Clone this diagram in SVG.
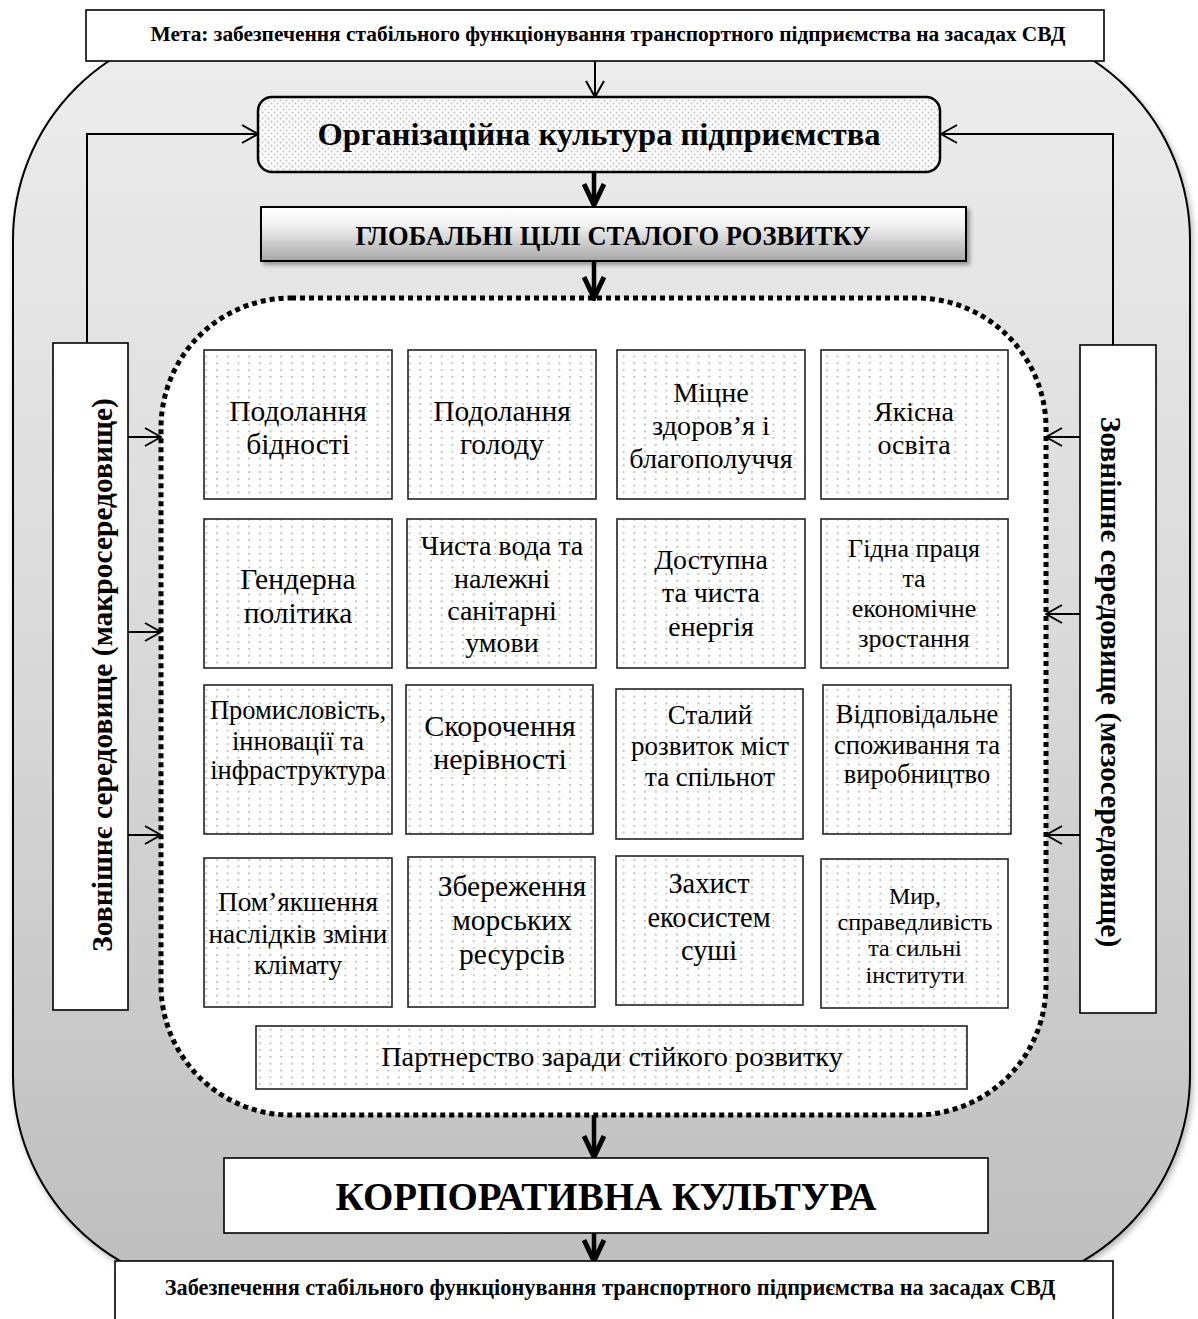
<svg xmlns="http://www.w3.org/2000/svg" width="1198" height="1319" viewBox="0 0 1198 1319">
  <style>
    text { font-family: "Liberation Serif", "Times New Roman", serif; fill: #000; }
    .bold { font-weight: bold; }
    .box { fill: url(#dots); stroke: #222; stroke-width: 1.6; }
    .plain { fill: #fff; stroke: #000; stroke-width: 1.6; }
    .goal { text-anchor: middle; }
    .thin { stroke: #000; stroke-width: 2; fill: none; marker-end: url(#arrowThin); }
    .thick { stroke: #000; stroke-width: 4.5; fill: none; marker-end: url(#arrowThick); }
  </style>
  <defs>
    <linearGradient id="outerGrad" x1="0" y1="0" x2="0" y2="1">
      <stop offset="0" stop-color="#ededed"/>
      <stop offset="0.5" stop-color="#d9d9d9"/>
      <stop offset="1" stop-color="#bdbdbd"/>
    </linearGradient>
    <linearGradient id="sdgGrad" x1="0" y1="0" x2="0" y2="1">
      <stop offset="0" stop-color="#ffffff"/>
      <stop offset="0.35" stop-color="#f0f0f0"/>
      <stop offset="1" stop-color="#a6a6a6"/>
    </linearGradient>
    <pattern id="dots" width="10.7" height="6.8" patternUnits="userSpaceOnUse">
      <rect width="10.7" height="6.8" fill="#fff"/>
      <circle cx="3" cy="3" r="1" fill="#b3b3b3"/>
    </pattern>
    <pattern id="dotsDense" width="6" height="6" patternUnits="userSpaceOnUse">
      <rect width="6" height="6" fill="#fbfbfb"/>
      <circle cx="1.5" cy="1.5" r="0.9" fill="#c2c2c2"/>
      <circle cx="4.5" cy="4.5" r="0.9" fill="#c2c2c2"/>
    </pattern>
    <filter id="shadow" x="-5%" y="-20%" width="115%" height="150%">
      <feDropShadow dx="3" dy="3" stdDeviation="2" flood-color="#000" flood-opacity="0.35"/>
    </filter>
    <filter id="shadowSoft" x="-5%" y="-5%" width="110%" height="110%">
      <feDropShadow dx="2" dy="3" stdDeviation="3" flood-color="#000" flood-opacity="0.3"/>
    </filter>
    <marker id="arrowThin" viewBox="0 0 18 20" refX="17" refY="10" markerWidth="18" markerHeight="20" markerUnits="userSpaceOnUse" orient="auto">
      <path d="M1,1 L17,10 L1,19" fill="none" stroke="#000" stroke-width="2"/>
    </marker>
    <marker id="arrowThick" viewBox="0 0 26 24" refX="23" refY="12" markerWidth="26" markerHeight="24" markerUnits="userSpaceOnUse" orient="auto">
      <path d="M2,2 L23,12 L2,22" fill="none" stroke="#000" stroke-width="5"/>
    </marker>
  </defs>

  <rect width="1198" height="1319" fill="#fff"/>

  <!-- outer environment shape -->
  <g id="environment">
    <rect x="13" y="25" width="1177" height="1265" rx="215" ry="215" fill="url(#outerGrad)" stroke="#000" stroke-width="2" filter="url(#shadowSoft)"/>
  </g>

  <!-- SDG region -->
  <g id="sdg-region">
    <rect x="161" y="298" width="885" height="817" rx="130" ry="130" fill="#fff" stroke="#000" stroke-width="5" stroke-dasharray="5 4"/>
  </g>

  <!-- connectors -->
  <g id="connectors">
    <line class="thin" x1="595" y1="61" x2="595" y2="97"/>
    <line class="thick" x1="594" y1="172" x2="594" y2="205"/>
    <line class="thick" x1="594" y1="261" x2="594" y2="298"/>
    <line class="thick" x1="594" y1="1115" x2="594" y2="1157"/>
    <line class="thick" x1="594" y1="1233" x2="594" y2="1261"/>
    <polyline class="thin" points="87,343 87,134 258,134"/>
    <polyline class="thin" points="1113,345 1113,134 941,134"/>
    <line class="thin" x1="128" y1="437" x2="161" y2="437"/>
    <line class="thin" x1="128" y1="632" x2="161" y2="632"/>
    <line class="thin" x1="128" y1="835" x2="161" y2="835"/>
    <line class="thin" x1="1080" y1="437" x2="1046" y2="437"/>
    <line class="thin" x1="1080" y1="614" x2="1046" y2="614"/>
    <line class="thin" x1="1080" y1="835" x2="1046" y2="835"/>
  </g>

  <g id="n-goal">
    <rect class="plain" x="86" y="10" width="1018" height="51"/>
    <text class="bold" x="608" y="41" font-size="21.4" text-anchor="middle">Мета: забезпечення стабільного функціонування транспортного підприємства на засадах СВД</text>
  </g>

  <g id="n-org">
    <rect x="258" y="97" width="682" height="75" rx="14" ry="14" fill="url(#dotsDense)" stroke="#000" stroke-width="2.5"/>
    <text class="bold" x="599" y="145" font-size="32.5" text-anchor="middle">Організаційна культура підприємства</text>
  </g>

  <g id="n-sdg">
    <rect x="261" y="207" width="705" height="54" fill="url(#sdgGrad)" stroke="#000" stroke-width="2" filter="url(#shadow)"/>
    <text class="bold" x="613" y="245" font-size="26.5" text-anchor="middle">ГЛОБАЛЬНІ ЦІЛІ СТАЛОГО РОЗВИТКУ</text>
  </g>

  <g id="n-macro">
    <rect class="plain" x="53" y="343" width="75" height="667"/>
    <text class="bold" transform="translate(112,675) rotate(-90)" font-size="29.5" text-anchor="middle">Зовнішнє середовище (макросередовище)</text>
  </g>

  <g id="n-meso">
    <rect class="plain" x="1080" y="345" width="76" height="668"/>
    <text class="bold" transform="translate(1101,682) rotate(90)" font-size="29.5" text-anchor="middle">Зовнішнє середовище (мезосередовище)</text>
  </g>

  <!-- Row 1 -->
  <g id="n-g1">
    <rect class="box" x="204" y="350" width="188" height="149"/>
    <text class="goal" font-size="29.5"><tspan x="298" y="421">Подолання</tspan><tspan x="298" y="454">бідності</tspan></text>
  </g>
  <g id="n-g2">
    <rect class="box" x="408" y="350" width="188" height="149"/>
    <text class="goal" font-size="29.5"><tspan x="502" y="421">Подолання</tspan><tspan x="502" y="454">голоду</tspan></text>
  </g>
  <g id="n-g3">
    <rect class="box" x="617" y="350" width="188" height="149"/>
    <text class="goal" font-size="28.2"><tspan x="711" y="402">Міцне</tspan><tspan x="711" y="435">здоров’я і</tspan><tspan x="711" y="468">благополуччя</tspan></text>
  </g>
  <g id="n-g4">
    <rect class="box" x="821" y="350" width="187" height="149"/>
    <text class="goal" font-size="28"><tspan x="914" y="421">Якісна</tspan><tspan x="914" y="454">освіта</tspan></text>
  </g>

  <!-- Row 2 -->
  <g id="n-g5">
    <rect class="box" x="204" y="519" width="188" height="149"/>
    <text class="goal" font-size="29.5"><tspan x="298" y="589">Гендерна</tspan><tspan x="298" y="623">політика</tspan></text>
  </g>
  <g id="n-g6">
    <rect class="box" x="407" y="519" width="189" height="149"/>
    <text class="goal" font-size="28"><tspan x="502" y="555">Чиста вода та</tspan><tspan x="502" y="588">належні</tspan><tspan x="502" y="620">санітарні</tspan><tspan x="502" y="652">умови</tspan></text>
  </g>
  <g id="n-g7">
    <rect class="box" x="617" y="519" width="188" height="149"/>
    <text class="goal" font-size="27.8"><tspan x="711" y="569">Доступна</tspan><tspan x="711" y="602">та чиста</tspan><tspan x="711" y="636">енергія</tspan></text>
  </g>
  <g id="n-g8">
    <rect class="box" x="821" y="519" width="187" height="149"/>
    <text class="goal" font-size="26"><tspan x="914" y="557">Гідна праця</tspan><tspan x="914" y="587">та</tspan><tspan x="914" y="617">економічне</tspan><tspan x="914" y="647">зростання</tspan></text>
  </g>

  <!-- Row 3 -->
  <g id="n-g9">
    <rect class="box" x="204" y="685" width="188" height="149"/>
    <text class="goal" font-size="26.5"><tspan x="298" y="719">Промисловість,</tspan><tspan x="298" y="750">інновації та</tspan><tspan x="298" y="779">інфраструктура</tspan></text>
  </g>
  <g id="n-g10">
    <rect class="box" x="406" y="685" width="187" height="149"/>
    <text class="goal" font-size="30"><tspan x="500" y="736">Скорочення</tspan><tspan x="500" y="769">нерівності</tspan></text>
  </g>
  <g id="n-g11">
    <rect class="box" x="616" y="689" width="187" height="150"/>
    <text class="goal" font-size="27"><tspan x="710" y="724">Сталий</tspan><tspan x="710" y="755">розвиток міст</tspan><tspan x="710" y="786">та спільнот</tspan></text>
  </g>
  <g id="n-g12">
    <rect class="box" x="823" y="685" width="188" height="149"/>
    <text class="goal" font-size="26.5"><tspan x="917" y="723">Відповідальне</tspan><tspan x="917" y="754">споживання та</tspan><tspan x="917" y="783">виробництво</tspan></text>
  </g>

  <!-- Row 4 -->
  <g id="n-g13">
    <rect class="box" x="204" y="858" width="188" height="149"/>
    <text class="goal" font-size="27.3"><tspan x="298" y="911">Пом’якшення</tspan><tspan x="298" y="943">наслідків зміни</tspan><tspan x="298" y="974">клімату</tspan></text>
  </g>
  <g id="n-g14">
    <rect class="box" x="408" y="857" width="187" height="150"/>
    <text class="goal" font-size="29.5"><tspan x="512" y="896">Збереження</tspan><tspan x="512" y="930">морських</tspan><tspan x="512" y="964">ресурсів</tspan></text>
  </g>
  <g id="n-g15">
    <rect class="box" x="616" y="856" width="187" height="149"/>
    <text class="goal" font-size="28.4"><tspan x="709" y="893">Захист</tspan><tspan x="709" y="927">екосистем</tspan><tspan x="709" y="960">суші</tspan></text>
  </g>
  <g id="n-g16">
    <rect class="box" x="821" y="859" width="187" height="149"/>
    <text class="goal" font-size="24"><tspan x="915" y="904">Мир,</tspan><tspan x="915" y="930">справедливість</tspan><tspan x="915" y="956">та сильні</tspan><tspan x="915" y="983">інститути</tspan></text>
  </g>

  <g id="n-g17">
    <rect class="box" x="256" y="1026" width="711" height="63"/>
    <text x="612" y="1066" font-size="28.3" text-anchor="middle">Партнерство заради стійкого розвитку</text>
  </g>

  <g id="n-corp">
    <rect class="plain" x="224" y="1158" width="764" height="75" stroke-width="2"/>
    <text class="bold" x="606" y="1210" font-size="39" text-anchor="middle">КОРПОРАТИВНА КУЛЬТУРА</text>
  </g>

  <g id="n-result">
    <rect class="plain" x="115" y="1261" width="998" height="60"/>
    <text class="bold" x="610" y="1295" font-size="22.3" text-anchor="middle">Забезпечення стабільного функціонування транспортного підприємства на засадах СВД</text>
  </g>
</svg>
